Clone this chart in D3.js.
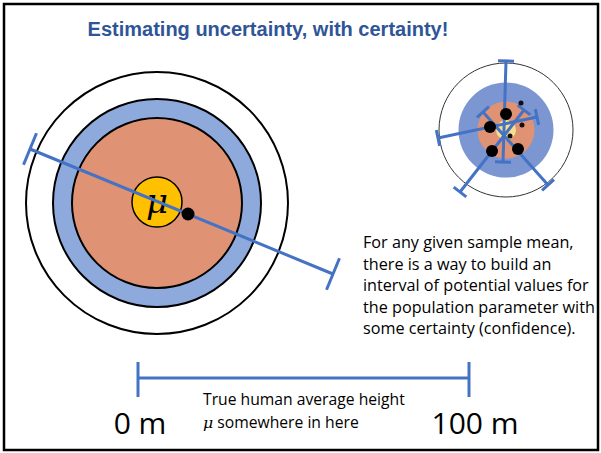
<!DOCTYPE html>
<html>
<head>
<meta charset="utf-8">
<script src="https://d3js.org/d3.v7.min.js"></script>
<style>
  body { margin: 0; background: #fff; }
  text { font-family: "Open Sans", Lato, sans-serif; }
</style>
</head>
<body>
<svg width="601" height="453"></svg>
<script>
// ---- data ----
// big target: ring radii (px) around the true mean
var bigRings = [131, 104, 85];
var bigFills = ["#ffffff", "#8eaadc", "#e09274"];
var muRadius = 25;
// one sample mean and its interval (offsets from target centre)
var bigMean = [31, 11];
var bigLo = [-127, -54];
var bigHi = [176, 71];

// small target: many samples
var smallRings = [67, 47.5, 28.5, 10];
var smallFills = ["#ffffff", "#7c96d2", "#e09274", "#f7df8c"];
var smallMeans = [[0, -16], [-16, -3], [-14, 21], [12, 19]];
var smallLo = [[0, -69], [-68, 8], [-46, 62], [-23, -18]];
var smallHi = [[-3, 32], [31, -13], [18, -20], [42, 55]];
var smallDots = [[15, -27], [16, -5], [4, 6]];

// the range axis
var rangeLabels = ["0 m", "100 m"];
var rangeValues = [0, 100];

var paragraph = [
  "For any given sample mean,",
  "there is a way to build an",
  "interval of potential values for",
  "the population parameter with",
  "some certainty (confidence)."
];
var paraBaselines = [248, 270, 291, 313, 334];

var svg = d3.select("svg");
var lineBlue = "#4472c4";

// frame
svg.append("rect")
    .attr("x", 4).attr("y", 4)
    .attr("width", 594).attr("height", 446)
    .attr("fill", "none")
    .attr("stroke", "#000")
    .attr("stroke-width", 2.5);

// title
svg.append("text")
    .attr("x", 268).attr("y", 36)
    .attr("text-anchor", "middle")
    .style("font-family", "'Liberation Sans', Arial, sans-serif")
    .style("font-weight", "bold")
    .style("font-size", "20px")
    .attr("fill", "#2f5597")
    .text("Estimating uncertainty, with certainty!");

function drawInterval(g, sx, sy, lo, hi, cap, w) {
  var x1 = sx(lo[0]), y1 = sy(lo[1]), x2 = sx(hi[0]), y2 = sy(hi[1]);
  var len = Math.hypot(x2 - x1, y2 - y1);
  var nx = -(y2 - y1) / len, ny = (x2 - x1) / len;
  g.append("line")
      .attr("x1", x1).attr("y1", y1).attr("x2", x2).attr("y2", y2)
      .attr("stroke", lineBlue).attr("stroke-width", w);
  [[x1, y1], [x2, y2]].forEach(function(p) {
    g.append("line")
        .attr("x1", p[0] - nx * cap).attr("y1", p[1] - ny * cap)
        .attr("x2", p[0] + nx * cap).attr("y2", p[1] + ny * cap)
        .attr("stroke", lineBlue).attr("stroke-width", w);
  });
}

// ---- big target ----
var bx = d3.scaleLinear().domain([-150, 150]).range([7, 307]);
var by = d3.scaleLinear().domain([-150, 150]).range([53, 353]);
var big = svg.append("g");

big.selectAll("circle.ring")
  .data(bigRings)
  .enter().append("circle")
    .attr("class", "ring")
    .attr("cx", bx(0)).attr("cy", by(0))
    .attr("r", function(d) { return d; })
    .attr("fill", function(d, i) { return bigFills[i]; })
    .attr("stroke", "#000")
    .attr("stroke-width", 2);

big.append("circle")
    .attr("cx", bx(0)).attr("cy", by(-1))
    .attr("r", muRadius)
    .attr("fill", "#ffc000")
    .attr("stroke", "#000")
    .attr("stroke-width", 1.5);

big.append("text")
    .attr("x", bx(0)).attr("y", by(10))
    .attr("text-anchor", "middle")
    .style("font-family", "'DejaVu Serif', serif")
    .style("font-style", "italic")
    .style("font-size", "34px")
    .attr("fill", "#000")
    .text("\u03bc");

drawInterval(big, bx, by, bigLo, bigHi, 17, 3);

big.append("circle")
    .attr("cx", bx(bigMean[0])).attr("cy", by(bigMean[1]))
    .attr("r", 6.5)
    .attr("fill", "#000");

// ---- small target ----
var sx = d3.scaleLinear().domain([-80, 80]).range([426, 586]);
var sy = d3.scaleLinear().domain([-80, 80]).range([50, 210]);
var small = svg.append("g");

small.selectAll("circle.ring")
  .data(smallRings)
  .enter().append("circle")
    .attr("class", "ring")
    .attr("cx", sx(0)).attr("cy", sy(0))
    .attr("r", function(d) { return d; })
    .attr("fill", function(d, i) { return smallFills[i]; })
    .attr("stroke", function(d, i) { return i === 0 ? "#333" : "none"; })
    .attr("stroke-width", 1);

smallMeans.forEach(function(m, i) {
  drawInterval(small, sx, sy, smallLo[i], smallHi[i], 8, 3);
});

small.selectAll("circle.mean")
  .data(smallMeans)
  .enter().append("circle")
    .attr("class", "mean")
    .attr("cx", function(d) { return sx(d[0]); })
    .attr("cy", function(d) { return sy(d[1]); })
    .attr("r", 6)
    .attr("fill", "#000");

small.selectAll("circle.dot")
  .data(smallDots)
  .enter().append("circle")
    .attr("class", "dot")
    .attr("cx", function(d) { return sx(d[0]); })
    .attr("cy", function(d) { return sy(d[1]); })
    .attr("r", 2.5)
    .attr("fill", "#111");

// ---- paragraph ----
svg.append("g").selectAll("text")
  .data(paragraph)
  .enter().append("text")
    .attr("x", 363)
    .attr("y", function(d, i) { return paraBaselines[i]; })
    .style("font-size", "16.2px")
    .attr("fill", "#000")
    .text(function(d) { return d; });

// ---- range bar ----
var x = d3.scaleLinear().domain([0, 100]).range([138, 469]);
var bar = svg.append("g");
bar.append("line")
    .attr("x1", x(0)).attr("x2", x(100))
    .attr("y1", 378).attr("y2", 378)
    .attr("stroke", lineBlue).attr("stroke-width", 3);
bar.selectAll("line.tick")
  .data(rangeValues)
  .enter().append("line")
    .attr("class", "tick")
    .attr("x1", function(d) { return x(d); })
    .attr("x2", function(d) { return x(d); })
    .attr("y1", 362).attr("y2", 397)
    .attr("stroke", lineBlue).attr("stroke-width", 3);
bar.selectAll("text.lab")
  .data(rangeValues)
  .enter().append("text")
    .attr("class", "lab")
    .attr("x", function(d) { return x(d) + (d === 0 ? 2 : 6); })
    .attr("y", 434)
    .attr("text-anchor", "middle")
    .style("font-size", "30px")
    .attr("fill", "#000")
    .text(function(d, i) { return rangeLabels[i]; });

bar.append("text")
    .attr("x", 203).attr("y", 405)
    .style("font-size", "15.7px")
    .text("True human average height");
var t2 = bar.append("text")
    .attr("x", 203).attr("y", 428)
    .style("font-size", "15.7px");
t2.append("tspan")
    .style("font-family", "'DejaVu Serif', serif")
    .style("font-style", "italic")
    .text("\u03bc");
t2.append("tspan").text(" somewhere in here");
</script>
</body>
</html>
